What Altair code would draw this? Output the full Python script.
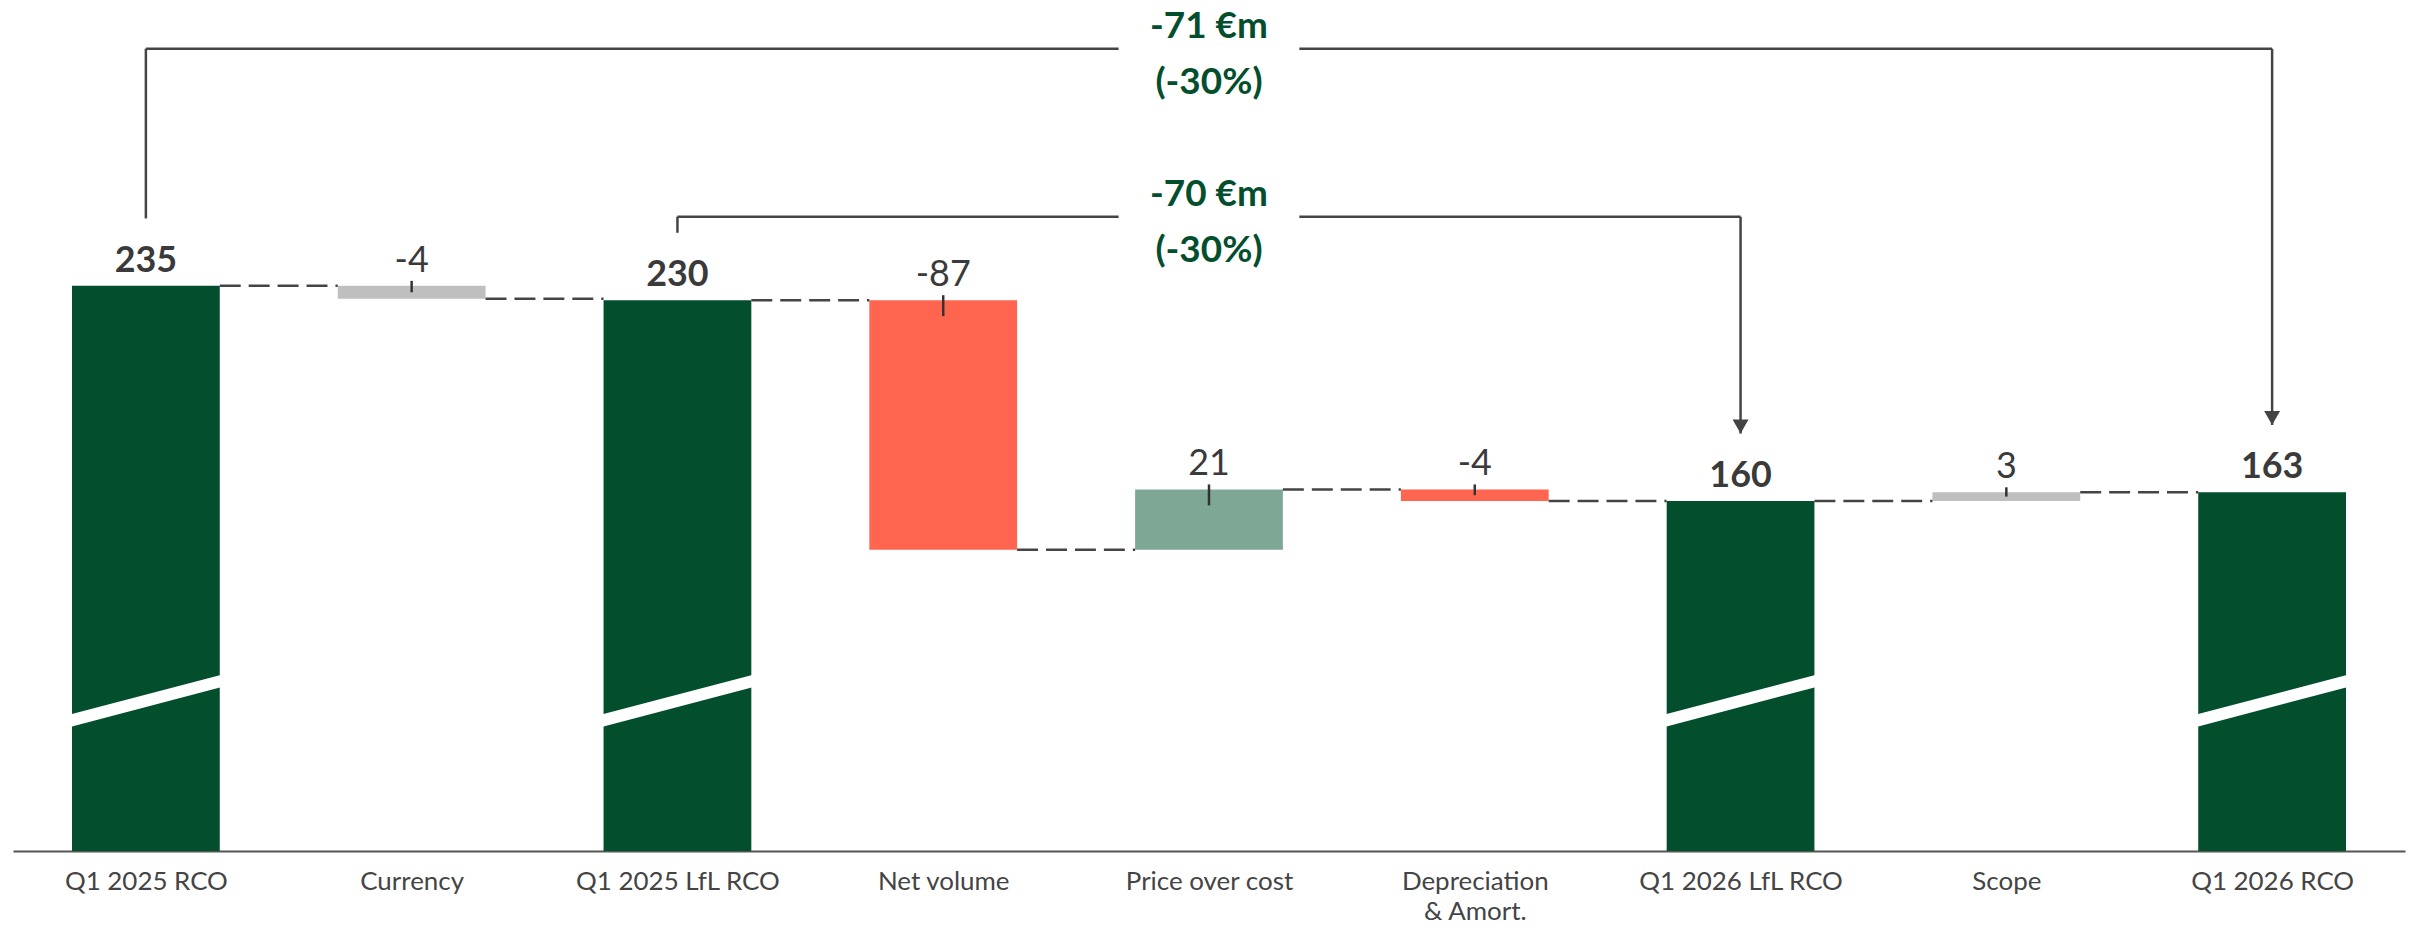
import json
import altair as alt
import pandas as pd

# ---------------- data ----------------
categories = ["Q1 2025 RCO", "Currency", "Q1 2025 LfL RCO", "Net volume",
              "Price over cost", "Depreciation\n& Amort.", "Q1 2026 LfL RCO",
              "Scope", "Q1 2026 RCO"]
kinds = ["total", "neutral", "total", "negative", "positive", "negative",
         "total", "neutral", "total"]
values = [235, -4.5, 230, -87, 21, -4, 160, 3, 163]
value_labels = ["235", "-4", "230", "-87", "21", "-4", "160", "3", "163"]

bridge_from = [0, 2]
bridge_to = [8, 6]
bridge_line1 = ["-71 €m", "-70 €m"]
bridge_line2 = ["(-30%)", "(-30%)"]
bridge_levels = [317.7, 259.1]

kind_domain = ["total", "negative", "positive", "neutral"]
kind_colors = ["#034E2D", "#FF654F", "#7FA795", "#BFBFBF"]

# ---------------- layout constants ----------------
Y_MIN, Y_MAX = 37.9, 328.7
HALF = 0.278          # half bar width in x units
BRIDGE_GAP = 0.34     # gap around bridge text
BRIDGE_CLEAR = 23.5   # distance (value units) above bar top
BREAK_CENTER, BREAK_RISE = 90.3, 13.57
TEXT_COLOR = "#3a3a3a"
LINE_COLOR = "#444444"
FONT = "Lato"

# ---------------- build tables ----------------
rows = []
running = None
for i, (c, k, v, lab) in enumerate(zip(categories, kinds, values, value_labels)):
    if k == "total":
        lo, hi, end = Y_MIN, v, v
        top = v
    else:
        start = running
        end = start + v
        lo, hi = min(start, end), max(start, end)
        top = hi
    running = end
    tick_end = max(top - 16 / 2.875, (lo + hi) / 2)
    rows.append(dict(pos=i, x0=i - HALF, x1=i + HALF, lo=lo, hi=hi, top=top,
                     end=end, kind=k, label=lab, total=(k == "total"),
                     tick_end=tick_end))
bars = pd.DataFrame(rows)

conn = pd.DataFrame([dict(xs=rows[i]["pos"] + HALF, xe=rows[i + 1]["pos"] - HALF,
                          level=rows[i]["end"]) for i in range(len(rows) - 1)])

tot = bars[bars.total].copy()
ext = 0.33
tot["bx0"] = tot.pos - ext
tot["bx1"] = tot.pos + ext
tot["by0"] = BREAK_CENTER - BREAK_RISE / 2 * ext / HALF
tot["by1"] = BREAK_CENTER + BREAK_RISE / 2 * ext / HALF

deltas = bars[~bars.total]

br = []
for f, t, l1, l2, lev in zip(bridge_from, bridge_to, bridge_line1, bridge_line2, bridge_levels):
    mid = (f + t) / 2
    br.append(dict(f=f, t=t, mid=mid, gl=mid - BRIDGE_GAP, gr=mid + BRIDGE_GAP,
                   level=lev, fy=values[f] + BRIDGE_CLEAR, ty=values[t] + BRIDGE_CLEAR,
                   l1=l1, l2=l2))
bridges = pd.DataFrame(br)

# ---------------- scales ----------------
xs = alt.Scale(domain=[-0.5, len(categories) - 0.5], nice=False, zero=False)
ys = alt.Scale(domain=[Y_MIN, Y_MAX], nice=False, zero=False)

label_expr = "split(" + json.dumps(categories) + "[datum.value], '\\n')"

base = alt.Chart(bars)

bar_layer = base.mark_bar().encode(
    x=alt.X("x0:Q", scale=xs, axis=alt.Axis(
        values=list(range(len(categories))), labelExpr=label_expr, title=None,
        ticks=False, grid=False, domainColor="#555555", domainWidth=2,
        labelFontSize=26, labelColor="#444444", labelFont=FONT, labelPadding=18,
        labelLineHeight=30, labelFlush=False, labelOverlap=False, labelLimit=1000)),
    x2="x1:Q",
    y=alt.Y("lo:Q", scale=ys, axis=None),
    y2="hi:Q",
    color=alt.Color("kind:N", scale=alt.Scale(domain=kind_domain, range=kind_colors), legend=None),
)

break_layer = alt.Chart(tot).mark_rule(color="white", strokeWidth=12, strokeCap="butt").encode(
    x=alt.X("bx0:Q", scale=xs), x2="bx1:Q",
    y=alt.Y("by0:Q", scale=ys), y2="by1:Q",
)

conn_layer = alt.Chart(conn).mark_rule(color=LINE_COLOR, strokeWidth=2.5, strokeDash=[21, 8]).encode(
    x=alt.X("xs:Q", scale=xs), x2="xe:Q",
    y=alt.Y("level:Q", scale=ys),
)

tick_layer = alt.Chart(deltas).mark_rule(color="#333333", strokeWidth=2.5, yOffset=-5).encode(
    x=alt.X("pos:Q", scale=xs),
    y=alt.Y("top:Q", scale=ys), y2="tick_end:Q",
)

lab_total = alt.Chart(tot).mark_text(baseline="alphabetic", dy=-14, fontSize=36,
                                     fontWeight="bold", font=FONT, color=TEXT_COLOR).encode(
    x=alt.X("pos:Q", scale=xs), y=alt.Y("top:Q", scale=ys), text="label:N")

lab_delta = alt.Chart(deltas).mark_text(baseline="alphabetic", dy=-14, fontSize=36,
                                        font=FONT, color=TEXT_COLOR).encode(
    x=alt.X("pos:Q", scale=xs), y=alt.Y("top:Q", scale=ys), text="label:N")

bc = alt.Chart(bridges)
b_left_v = bc.mark_rule(color=LINE_COLOR, strokeWidth=2.5).encode(
    x=alt.X("f:Q", scale=xs), y=alt.Y("fy:Q", scale=ys), y2="level:Q")
b_h1 = bc.mark_rule(color=LINE_COLOR, strokeWidth=2.5).encode(
    x=alt.X("f:Q", scale=xs), x2="gl:Q", y=alt.Y("level:Q", scale=ys))
b_h2 = bc.mark_rule(color=LINE_COLOR, strokeWidth=2.5).encode(
    x=alt.X("gr:Q", scale=xs), x2="t:Q", y=alt.Y("level:Q", scale=ys))
b_right_v = bc.mark_rule(color=LINE_COLOR, strokeWidth=2.5).encode(
    x=alt.X("t:Q", scale=xs), y=alt.Y("level:Q", scale=ys), y2="ty:Q")
b_arrow = bc.mark_point(shape="M -0.57 -1 L 0.57 -1 L 0 0 Z", size=784, filled=True,
                        color=LINE_COLOR, opacity=1).encode(
    x=alt.X("t:Q", scale=xs), y=alt.Y("ty:Q", scale=ys))
b_t1 = bc.mark_text(baseline="alphabetic", dy=-11, fontSize=37, fontWeight="bold",
                    font=FONT, color="#034E2D").encode(
    x=alt.X("mid:Q", scale=xs), y=alt.Y("level:Q", scale=ys), text="l1:N")
b_t2 = bc.mark_text(baseline="alphabetic", dy=45, fontSize=37, fontWeight="bold",
                    font=FONT, color="#034E2D").encode(
    x=alt.X("mid:Q", scale=xs), y=alt.Y("level:Q", scale=ys), text="l2:N")

chart = alt.layer(
    bar_layer, break_layer, conn_layer, tick_layer, lab_total, lab_delta,
    b_left_v, b_h1, b_h2, b_right_v, b_arrow, b_t1, b_t2
).properties(
    width=2398, height=836,
    padding={"left": 5, "top": 8, "right": 2, "bottom": 76},
    autosize=alt.AutoSizeParams(type="none"),
    background="white",
).configure_view(stroke=None, strokeWidth=0)

chart.save("out.html", embed_options={"renderer": "svg", "actions": False})
